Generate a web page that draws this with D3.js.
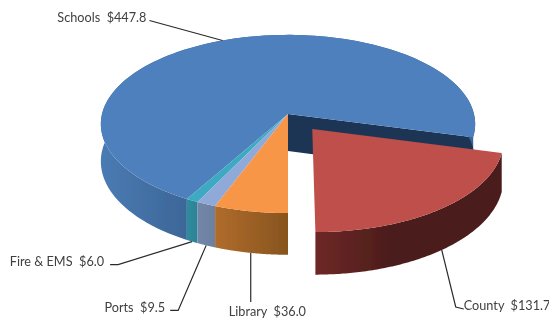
<!DOCTYPE html>
<html><head><meta charset="utf-8">
<style>html,body{margin:0;background:#fff}svg{display:block}text{font-family:Lato,"Open Sans",sans-serif;font-size:12.7px;fill:#404040}</style>
<script src="https://cdn.jsdelivr.net/npm/d3@7/dist/d3.min.js"></script></head><body>
<script>
const categories=["County","Library","Ports","Fire & EMS","Schools"];
const values=[131.7,36.0,9.5,6.0,447.8];
const topColors=["#BE4F4C","#F79646","#8FAAD8","#3CA9C2","#4D80BC"];
const wallLeft=["#6E2826","#B06C2C","#7286A8","#2F8C9F","#4A7BB3"];
const wallRight=["#4C1D1B","#87541E","#6C80A2","#2C8395","#3D6698"];
const explode=[0.21,0,0,0,0];
const labelDx=[[14,57],[0,49],[-28,65],[-74,23],[-73,-20]];
const labelTextX=[8,-22,-13,-14,-3];
const labelTextY=[3,14,2,1,1];

const W=549,H=320,cx=288,cy=114,rx=186,ry=88,k=0.112,depthBase=37;
const svg=d3.select("body").append("svg").attr("width",W).attr("height",H);
const defs=svg.append("defs");
defs.append("filter").attr("id","soft").attr("x","-2%").attr("y","-2%").attr("width","104%").attr("height","104%")
  .append("feGaussianBlur").attr("stdDeviation",0.4);
const total=d3.sum(values);
const start=Math.PI-values[0]/total*2*Math.PI;
const arcs=d3.pie().sort(null).startAngle(start).endAngle(start+2*Math.PI)(values);
const xS=d3.scaleLinear().domain([0,1]).range([cx,cx+rx]);
const yS=d3.scaleLinear().domain([0,1]).range([cy,cy+ry]);
function project(u,v,drop){
  const s=1/(1-k*v);
  return [cx+(xS(u)-cx)*s,cy+(yS(v)-cy)*s+(drop?depthBase*s:0)];
}
function pt(i,a,r,drop){
  const m=(arcs[i].startAngle+arcs[i].endAngle)/2,e=explode[i];
  return project(r*Math.sin(a)+e*Math.sin(m),-r*Math.cos(a)-e*Math.cos(m),drop);
}
const line=d3.line();
function rim(i,drop,rev){
  const pts=d3.range(0,121).map(j=>pt(i,d3.interpolateNumber(arcs[i].startAngle,arcs[i].endAngle)(j/120),1,drop));
  return rev?pts.reverse():pts;
}
const root=svg.append("g").attr("filter","url(#soft)");
const wallGroup=root.append("g"),topGroup=root.append("g"),leaderGroup=root.append("g"),textGroup=root.append("g");
[4,3,2,1,0].forEach(i=>{
  const a0=arcs[i].startAngle,a1=arcs[i].endAngle;
  const xs=rim(i,false).map(p=>p[0]);
  const lo=d3.min(xs),hi=d3.max(xs);
  const g=defs.append("linearGradient").attr("id","w"+i).attr("gradientUnits","userSpaceOnUse")
    .attr("x1",lo).attr("x2",i===4?pt(4,a0,1)[0]:(i===0?lo+(hi-lo)*0.4:hi)).attr("y1",0).attr("y2",0);
  g.append("stop").attr("offset",0).attr("stop-color",wallLeft[i]);
  g.append("stop").attr("offset",1).attr("stop-color",wallRight[i]);
  if(i===4){
    wallGroup.append("path").attr("fill","#1F3654")
      .attr("d",line([pt(i,a1,0),pt(i,a1,1),pt(i,a1,1,true),pt(i,a1,0,true)])+"Z");
  }
});
[4,3,2,1,0].forEach(i=>{
  const g=i===0?topGroup:wallGroup;
  g.append("path").attr("fill",`url(#w${i})`).attr("d",line(rim(i,false).concat(rim(i,true,true)))+"Z");
});
[4,3,2,1].forEach(i=>{
  wallGroup.append("path").attr("fill",topColors[i]).attr("d",line([pt(i,0,0)].concat(rim(i,false)))+"Z");
});
topGroup.append("path").attr("fill",topColors[0]).attr("d",line([pt(0,0,0)].concat(rim(0,false)))+"Z");

arcs.forEach((d,i)=>{
  const m=(d.startAngle+d.endAngle)/2;
  const p=pt(i,m,1,i!==4);
  const [dx,dy]=labelDx[i];
  const elbow=[p[0]+dx,p[1]+dy];
  const side=(i===0)?1:-1;
  const pts=i===1?[p,elbow]:[p,elbow,[elbow[0]+side*(i===4?0:8),elbow[1]+(i===0?2:0)]];
  leaderGroup.append("path").attr("d",line(pts)).attr("fill","none").attr("stroke","#2a2a2a").attr("stroke-width",1.2);
  const label=`${categories[i]}  $${values[i].toFixed(1)}`;
  textGroup.append("text").style("white-space","pre").text(label)
    .attr("x",elbow[0]+labelTextX[i]).attr("y",elbow[1]+labelTextY[i])
    .attr("text-anchor",i===0||i===1?"start":"end");
});
</script></body></html>
